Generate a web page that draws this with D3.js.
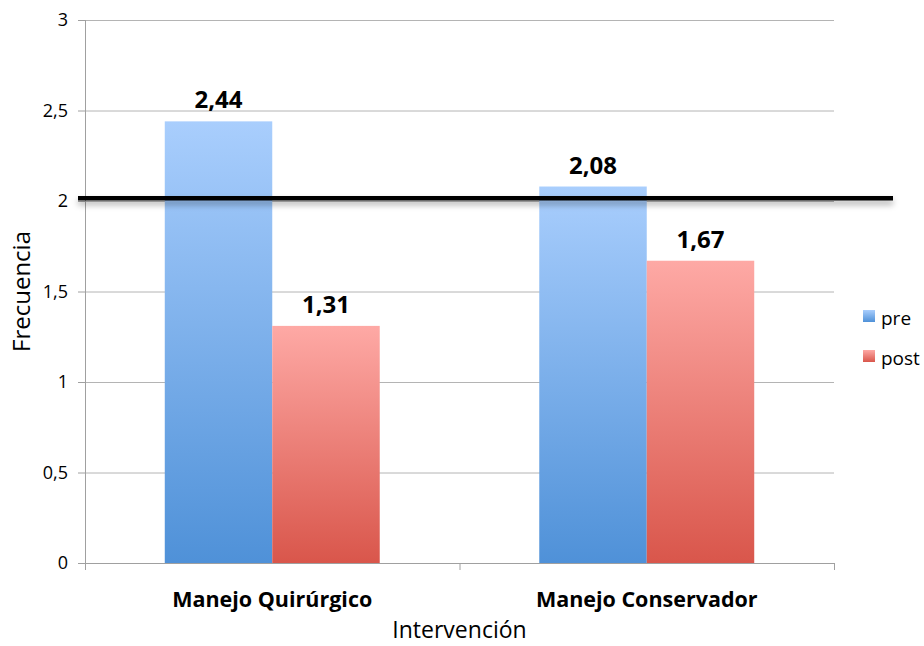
<!DOCTYPE html>
<html>
<head>
<meta charset="utf-8">
<script src="https://cdn.jsdelivr.net/npm/d3@7"></script>
<style>
  body { margin: 0; background: #fff; }
  svg text { font-family: 'Open Sans', sans-serif; fill: #000; }
</style>
</head>
<body>
<div id="chart"></div>
<script>
// data
const categories = ['Manejo Quirúrgico', 'Manejo Conservador']
const seriesNames = ['pre', 'post']
const preValues = [2.44, 2.08]
const postValues = [1.31, 1.67]
const yTicks = [0, 0.5, 1, 1.5, 2, 2.5, 3]
const referenceValue = [2.015]

const svgWidth = 924
const svgHeight = 646
const margin = { top: 20, right: 90, bottom: 83, left: 85 }
const width = 834 - margin.left
const height = 563 - margin.top

const fmt = (v) => String(v).replace('.', ',')

const svg = d3.select('#chart').append('svg')
    .attr('width', svgWidth)
    .attr('height', svgHeight)

const defs = svg.append('defs')
const gradColors = {
    'pre': ['#a9cefd', '#4f91d8'],
    'post': ['#fea9a5', '#d9564b']
}
seriesNames.forEach((s) => {
    let g = defs.append('linearGradient')
        .attr('id', 'grad-' + s)
        .attr('x1', 0).attr('y1', 0).attr('x2', 0).attr('y2', 1)
    g.append('stop').attr('offset', '0%').attr('stop-color', gradColors[s][0])
    g.append('stop').attr('offset', '100%').attr('stop-color', gradColors[s][1])
})
// a horizontal line has a zero-height bbox, so the filter works in user space
defs.append('filter').attr('id', 'shadow')
    .attr('filterUnits', 'userSpaceOnUse')
    .attr('x', -20).attr('y', 150).attr('width', 900).attr('height', 60)
    .append('feDropShadow')
    .attr('dx', 0).attr('dy', 4).attr('stdDeviation', 3)
    .attr('flood-color', '#000').attr('flood-opacity', 0.35)

const g = svg.append('g')
    .attr('transform', 'translate(' + margin.left + ',' + margin.top + ')')

const y = d3.scaleLinear().domain([0, 3]).range([height, 0])
const x0 = d3.scaleBand().domain(categories).range([0, width])
const x1 = d3.scaleBand().domain(seriesNames)
    .range([x0.bandwidth() * 0.213, x0.bandwidth() * 0.787])

// gridlines
g.append('g').attr('class', 'grid')
    .selectAll('line')
    .data(yTicks.filter((t) => t > 0))
    .enter()
    .append('line')
    .attr('x1', 0).attr('x2', width)
    .attr('y1', (t) => y(t) + 0.5).attr('y2', (t) => y(t) + 0.5)
    .style('stroke', '#b4b4b4').style('stroke-width', 1)

// y axis
let yAxis = g.append('g').attr('class', 'y-axis')
    .call(d3.axisLeft(y).tickValues(yTicks).tickFormat(fmt).tickSize(7).tickPadding(10))
yAxis.selectAll('path, line').style('stroke', '#a0a0a0')
yAxis.selectAll('text').style('font-size', '18px').style('font-family', "'Open Sans', sans-serif")
yAxis.select('.domain').attr('d', 'M0.5,0V' + height)

// bars
const rows = categories.map((c, i) => ({ cat: c, pre: preValues[i], post: postValues[i] }))
let groups = g.append('g').attr('class', 'barchart')
    .selectAll('g')
    .data(rows)
    .enter()
    .append('g')
    .attr('transform', (d) => 'translate(' + x0(d.cat) + ',0)')

groups.selectAll('rect')
    .data((d) => seriesNames.map((s) => ({ key: s, value: d[s] })))
    .enter()
    .append('rect')
    .attr('x', (d) => x1(d.key))
    .attr('y', (d) => y(d.value))
    .attr('width', x1.bandwidth())
    .attr('height', (d) => height - y(d.value))
    .style('fill', (d) => 'url(#grad-' + d.key + ')')

groups.selectAll('text.value')
    .data((d) => seriesNames.map((s) => ({ key: s, value: d[s] })))
    .enter()
    .append('text')
    .attr('class', 'value')
    .attr('x', (d) => x1(d.key) + x1.bandwidth() / 2)
    .attr('y', (d) => y(d.value) - 13)
    .attr('text-anchor', 'middle')
    .style('font-size', '24px')
    .style('font-weight', 'bold')
    .text((d) => fmt(d.value))

// x axis
let xAxis = g.append('g').attr('class', 'x-axis')
    .attr('transform', 'translate(0,' + height + ')')
xAxis.append('line').attr('x1', 0).attr('x2', width).attr('y1', 0.5).attr('y2', 0.5)
    .style('stroke', '#a0a0a0')
xAxis.selectAll('line.tick')
    .data([0, x0(categories[1]), width])
    .enter()
    .append('line')
    .attr('class', 'tick')
    .attr('x1', (d) => d + 0.5).attr('x2', (d) => d + 0.5)
    .attr('y1', 0).attr('y2', 7)
    .style('stroke', '#a0a0a0')
xAxis.selectAll('text')
    .data(categories)
    .enter()
    .append('text')
    .attr('x', (d) => x0(d) + x0.bandwidth() / 2)
    .attr('y', 44)
    .attr('text-anchor', 'middle')
    .style('font-size', '21.5px')
    .style('font-weight', 'bold')
    .text((d) => d)

// reference line
g.append('g').attr('class', 'reference')
    .selectAll('line')
    .data(referenceValue)
    .enter()
    .append('line')
    .attr('x1', -7).attr('x2', 808)
    .attr('y1', (d) => y(d)).attr('y2', (d) => y(d))
    .style('stroke', '#000').style('stroke-width', 4.5)
    .attr('filter', 'url(#shadow)')

// axis titles
svg.append('text')
    .attr('x', margin.left + width / 2)
    .attr('y', 638)
    .attr('text-anchor', 'middle')
    .style('font-size', '23px')
    .text('Intervención')

svg.append('text')
    .attr('transform', 'translate(30,' + (margin.top + height / 2) + ') rotate(-90)')
    .attr('text-anchor', 'middle')
    .style('font-size', '24px')
    .text('Frecuencia')

// legend
let legend = svg.append('g').attr('class', 'legend')
    .attr('transform', 'translate(863,310)')
let items = legend.selectAll('g')
    .data(seriesNames)
    .enter()
    .append('g')
    .attr('transform', (d, i) => 'translate(0,' + (i * 40) + ')')
items.append('rect')
    .attr('width', 12).attr('height', 12)
    .style('fill', (d) => 'url(#grad-' + d + ')')
items.append('text')
    .attr('x', 18).attr('y', 15)
    .style('font-size', '19px')
    .text((d) => d)
</script>
</body>
</html>
